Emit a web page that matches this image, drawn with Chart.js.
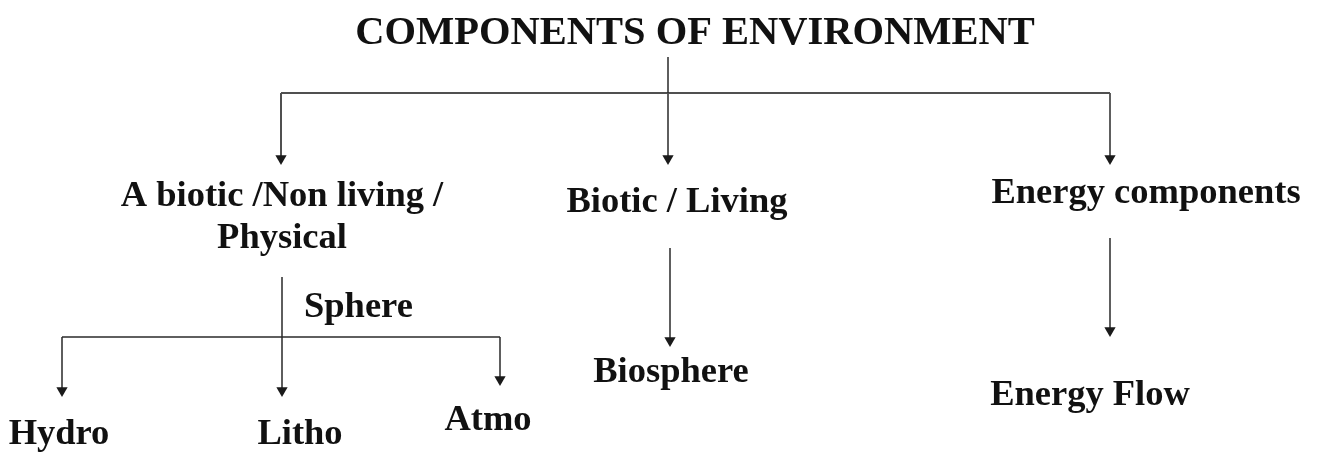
<!DOCTYPE html>
<html>
<head>
<meta charset="utf-8">
<script src="https://cdn.jsdelivr.net/npm/chart.js@4"></script>
<style>
  html, body { margin: 0; padding: 0; background: #fff; }
  canvas { display: block; }
</style>
</head>
<body>
<canvas id="diagram" width="1318" height="452"></canvas>
<script>
// node texts and where they sit (diagram units = pixels of the original figure)
const nodeText = ['COMPONENTS OF ENVIRONMENT', 'A biotic /Non living /', 'Physical', 'Biotic / Living',
  'Energy components', 'Sphere', 'Hydro', 'Litho', 'Atmo', 'Biosphere', 'Energy Flow'];
const nodeX = [695, 282, 282, 677, 1146, 304, 59, 300, 488, 671, 1090];
const nodeY = [44, 206, 248, 212, 203, 317, 444, 444, 430, 382, 405];
const nodeAlign = ['center', 'center', 'center', 'center', 'center', 'left', 'center', 'center', 'center', 'center', 'center'];

// plain connector segments [x1, y1, x2, y2]
const plainLinks = [
  [668, 57, 668, 93],
  [281, 93, 1110, 93],
  [62, 337, 500, 337]
];
// arrows [x, yStart, yTip]
const arrowLinks = [
  [281, 93, 165], [668, 93, 165], [1110, 93, 165],
  [62, 337, 397], [282, 277, 397], [500, 337, 386],
  [670, 248, 347], [1110, 238, 337]
];

const HEAD = 6.5;
const datasets = [];
plainLinks.forEach(function(l, i) {
  datasets.push({
    data: [{x: l[0], y: l[1]}, {x: l[2], y: l[3]}],
    showLine: true, borderColor: i === 1 ? '#505050' : '#2a2a2a', borderWidth: i === 1 ? 2.2 : 1.5,
    pointRadius: 0
  });
});
arrowLinks.forEach(function(a, i) {
  datasets.push({
    data: [{x: a[0], y: a[1]}, {x: a[0], y: a[2] - HEAD}],
    showLine: true, borderColor: i === 0 ? '#505050' : '#2a2a2a', borderWidth: i === 0 ? 2 : 1.5,
    pointRadius: [0, HEAD], pointStyle: 'triangle', rotation: 180,
    pointBackgroundColor: '#1a1a1a', pointBorderColor: '#1a1a1a', pointBorderWidth: 0
  });
});

const labelPlugin = {
  id: 'nodeLabels',
  afterDatasetsDraw: function(chart) {
    const ctx = chart.ctx, xs = chart.scales.x, ys = chart.scales.y;
    ctx.save();
    ctx.fillStyle = '#111';
    ctx.textBaseline = 'alphabetic';
    nodeText.forEach(function(t, i) {
      ctx.font = (i === 0 ? 'bold 40.5px' : 'bold 36.5px') + ' "Liberation Serif", "Times New Roman", serif';
      ctx.textAlign = nodeAlign[i];
      ctx.fillText(t, xs.getPixelForValue(nodeX[i]), ys.getPixelForValue(nodeY[i]));
    });
    ctx.restore();
  }
};

new Chart(document.getElementById('diagram').getContext('2d'), {
  type: 'scatter',
  data: { datasets: datasets },
  options: {
    responsive: false,
    animation: false,
    layout: { padding: 0, autoPadding: false },
    plugins: { legend: { display: false }, tooltip: { enabled: false } },
    scales: {
      x: { type: 'linear', min: 0, max: 1318, display: false },
      y: { type: 'linear', min: 0, max: 452, reverse: true, display: false }
    }
  },
  plugins: [labelPlugin]
});
</script>
</body>
</html>
